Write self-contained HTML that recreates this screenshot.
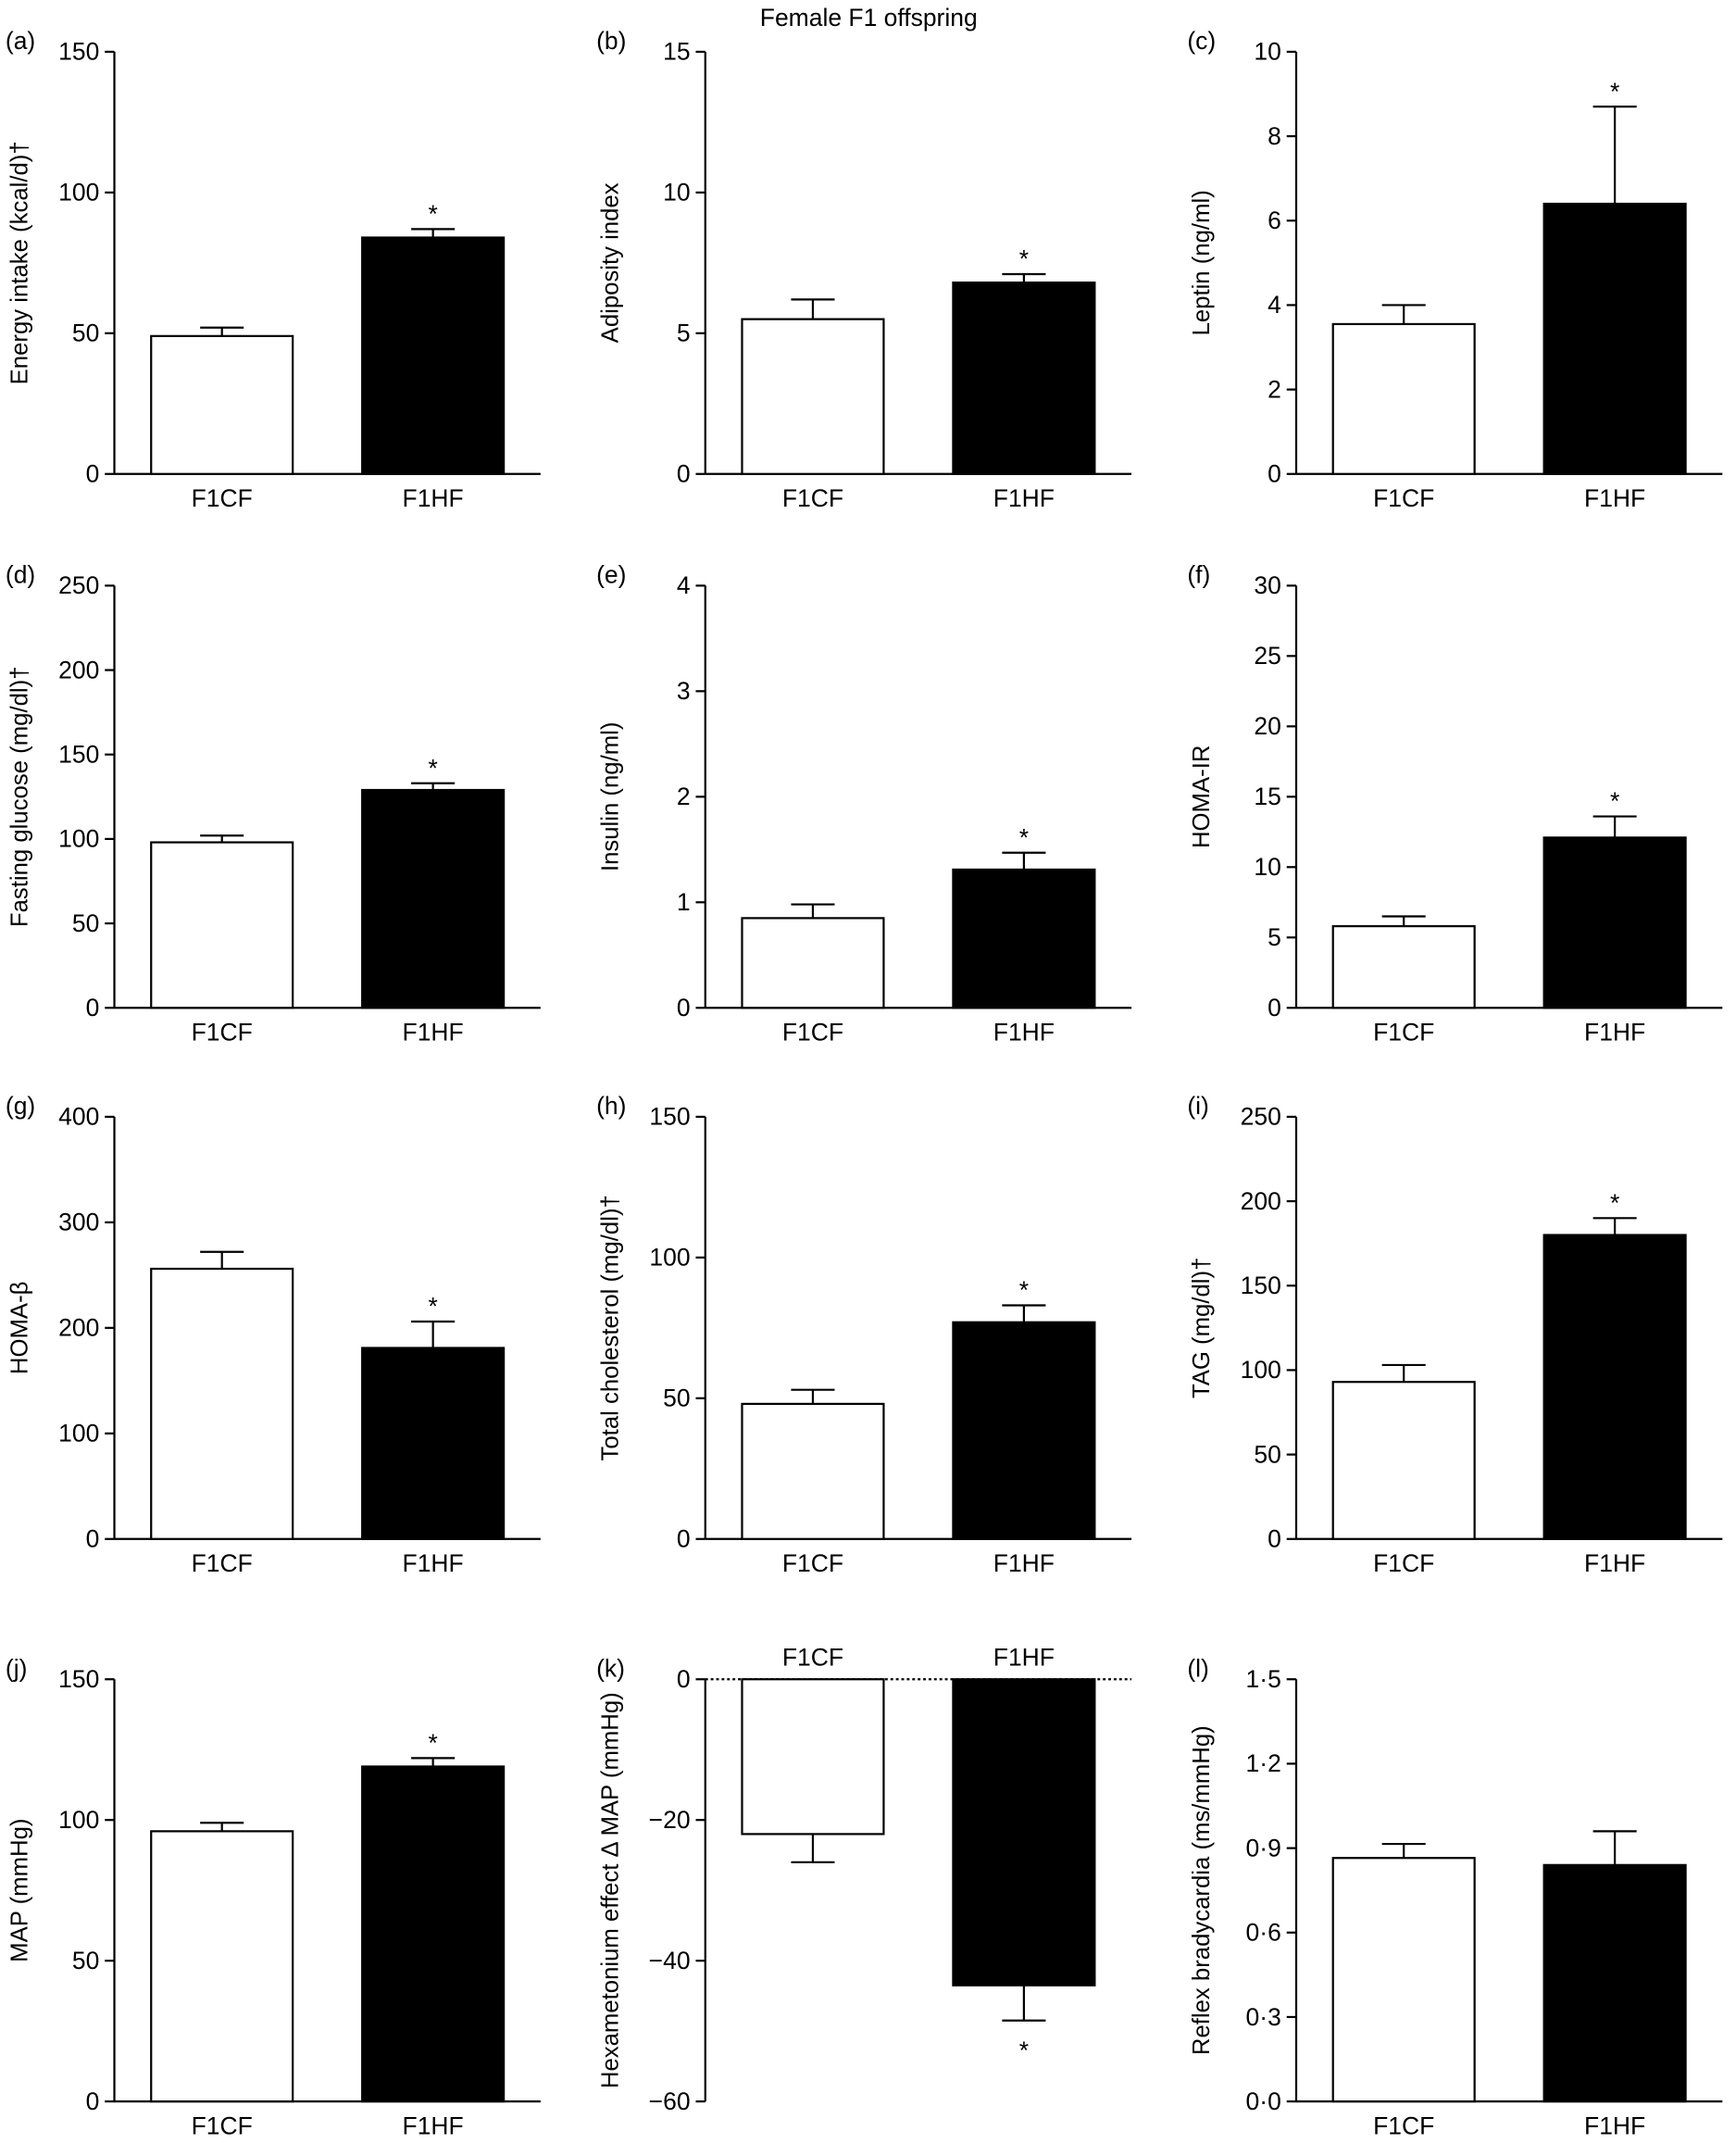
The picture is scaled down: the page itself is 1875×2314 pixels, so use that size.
<!DOCTYPE html>
<html><head><meta charset="utf-8"><style>
html,body{margin:0;padding:0;background:#fff;}
svg{display:block;font-family:"Liberation Sans",sans-serif;}
</style></head><body>
<svg id="fig" width="1875" height="2314" viewBox="0 0 1275 1573.5" xmlns="http://www.w3.org/2000/svg">
<text x="638" y="19" font-size="18" text-anchor="middle">Female F1 offspring</text>
</svg>
<script>
const panelLetters=["(a)","(b)","(c)","(d)","(e)","(f)","(g)","(h)","(i)","(j)","(k)","(l)"];
const yTitles=["Energy intake (kcal/d)†","Adiposity index","Leptin (ng/ml)","Fasting glucose (mg/dl)†","Insulin (ng/ml)","HOMA-IR","HOMA-β","Total cholesterol (mg/dl)†","TAG (mg/dl)†","MAP (mmHg)","Hexametonium effect Δ MAP (mmHg)","Reflex bradycardia (ms/mmHg)"];
const categories=["F1CF","F1HF"];
const meanValues=[[49,84],[5.5,6.8],[3.55,6.4],[98,129],[0.85,1.31],[5.8,12.1],[256,181],[48,77],[93,180],[96,119],[-22,-43.5],[0.865,0.84]];
const errValues=[[3,3],[0.7,0.3],[0.45,2.3],[4,4],[0.13,0.16],[0.7,1.5],[16,25],[5,6],[10,10],[3,3],[4,5],[0.05,0.12]];
const sigFlags=[[0,1],[0,1],[0,1],[0,1],[0,1],[0,1],[0,1],[0,1],[0,1],[0,1],[0,1],[0,0]];
const yTicks=[[0,50,100,150],[0,5,10,15],[0,2,4,6,8,10],[0,50,100,150,200,250],[0,1,2,3,4],[0,5,10,15,20,25,30],[0,100,200,300,400],[0,50,100,150],[0,50,100,150,200,250],[0,50,100,150],[-60,-40,-20,0],[0,0.3,0.6,0.9,1.2,1.5]];
const tickLabels=[null,null,null,null,null,null,null,null,null,null,["−60","−40","−20","0"],["0·0","0·3","0·6","0·9","1·2","1·5"]];

const svg=document.getElementById('fig');
const NS="http://www.w3.org/2000/svg";
function mk(tag,attrs,parent){const e=document.createElementNS(NS,tag);for(const k in attrs)e.setAttribute(k,attrs[k]);(parent||svg).appendChild(e);return e;}
const colX=[84,518,952];
const rowTop=[38,430,820,1233];
const H=310;
for(let p=0;p<12;p++){
  const r=Math.floor(p/3),c=p%3;
  const ax=colX[c],top=rowTop[r],bot=top+H;
  const g=mk('g',{});
  
  
  const ticks=yTicks[p];
  const ymin=ticks[0],ymax=ticks[ticks.length-1];
  const ys=v=>bot-(v-ymin)/(ymax-ymin)*H;
  const neg=ymax===0;
  const t1=mk('text',{x:ax-80,y:top-2,'font-size':18},g);t1.textContent=panelLetters[p];
  
  
  const yl=mk('line',{x1:ax,y1:top,x2:ax,y2:bot,stroke:'#000','stroke-width':1.5},g);
  
  
  ticks.forEach((t,i)=>{
    const y=ys(t);
    mk('line',{x1:ax-7,y1:y,x2:ax,y2:y,stroke:'#000','stroke-width':1.5},g);
    const tl=mk('text',{x:ax-11,y:y+6,'font-size':18,'text-anchor':'end'},g);
    tl.textContent=tickLabels[p]?tickLabels[p][i]:String(t);
    
    
  });
  const xa=neg?top:bot;
  const xl=mk('line',{x1:ax,y1:xa,x2:ax+313,y2:xa,stroke:'#000','stroke-width':1.5,'stroke-dasharray':neg?'2,2':'none'},g);
  
  
  const yt=mk('text',{transform:`translate(${ax-64},${(top+bot)/2}) rotate(-90)`,'font-size':17.5,'text-anchor':'middle'},g);
  yt.textContent=yTitles[p];
  
  
  const y0=ys(0);
  categories.forEach((cat,i)=>{
    const x0=ax+27+i*155,w=104,cx=x0+w/2;
    const v=meanValues[p][i],e=errValues[p][i];
    const yv=ys(v);
    const tip=v>=0?ys(v+e):ys(v-e);
    mk('line',{x1:cx,y1:yv,x2:cx,y2:tip,stroke:'#000','stroke-width':1.5},g);
    mk('line',{x1:cx-16,y1:tip,x2:cx+16,y2:tip,stroke:'#000','stroke-width':1.5},g);
    const b=mk('rect',{x:x0,y:Math.min(yv,y0),width:w,height:Math.abs(y0-yv),fill:i?'#000':'#fff',stroke:'#000','stroke-width':1.5},g);
    
    
    if(sigFlags[p][i]){
      const s=mk('text',{x:cx,y:v>=0?tip-5:tip+28,'font-size':18,'text-anchor':'middle'},g);
      s.textContent='*';
      
      
    }
    const xl2=mk('text',{x:cx,y:neg?top-10:bot+24,'font-size':18,'text-anchor':'middle'},g);
    xl2.textContent=cat;
    
    
  });
}
</script>
</body></html>
